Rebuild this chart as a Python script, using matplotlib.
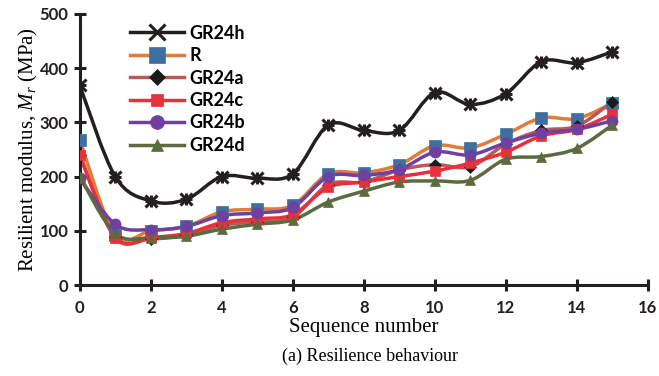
import numpy as np
import matplotlib
matplotlib.use("Agg")
import matplotlib.pyplot as plt
from matplotlib.path import Path
from matplotlib.patches import PathPatch
from matplotlib.lines import Line2D

plt.rcParams["mathtext.fontset"] = "custom"
plt.rcParams["mathtext.it"] = "Liberation Serif:italic"
plt.rcParams["mathtext.rm"] = "Liberation Serif"

seq = list(range(16))
GR24h = [368, 200, 155, 158, 200, 197, 205, 295, 285, 285, 355, 333, 353, 412, 410, 430]
R     = [268, 93, 100, 108, 135, 140, 147, 205, 207, 222, 257, 253, 278, 308, 307, 335]
GR24a = [240, 88, 85, 92, 110, 117, 125, 185, 190, 212, 222, 218, 260, 285, 293, 338]
GR24c = [240, 87, 88, 95, 115, 122, 130, 180, 190, 200, 210, 225, 245, 275, 287, 315]
GR24b = [197, 112, 102, 108, 128, 133, 143, 200, 202, 213, 245, 240, 262, 280, 287, 303]
GR24d = [200, 95, 87, 90, 103, 112, 120, 153, 173, 190, 192, 193, 232, 237, 252, 295]

series = [
    ("GR24h", GR24h, "#231F20", "x", "#231F20", 9),
    ("R", R, "#E07B39", "s", "#3E6FA0", 9),
    ("GR24a", GR24a, "#B5595A", "D", "#1a1a1a", 6),
    ("GR24c", GR24c, "#E8303A", "s", "#E8303A", 7),
    ("GR24b", GR24b, "#7040A0", "o", "#7040A0", 8),
    ("GR24d", GR24d, "#5B6B3F", "^", "#5B6B3F", 7),
]

def smooth_path(x, y, t=0.5 / 3):
    x = np.asarray(x, float); y = np.asarray(y, float)
    n = len(x)
    verts = [(x[0], y[0])]; codes = [Path.MOVETO]
    for i in range(n - 1):
        x0, y0 = (x[i - 1], y[i - 1]) if i > 0 else (x[i], y[i])
        x3, y3 = (x[i + 2], y[i + 2]) if i + 2 < n else (x[i + 1], y[i + 1])
        c1 = (x[i] + (x[i + 1] - x0) * t, y[i] + (y[i + 1] - y0) * t)
        c2 = (x[i + 1] - (x3 - x[i]) * t, y[i + 1] - (y3 - y[i]) * t)
        verts += [c1, c2, (x[i + 1], y[i + 1])]
        codes += [Path.CURVE4] * 3
    return Path(verts, codes)

fig = plt.figure(figsize=(6.59, 3.76), dpi=100)
ax = fig.add_axes([0.121, 0.242, 0.862, 0.721])

handles = []
for name, vals, lc, mk, mc, ms in series:
    patch = PathPatch(smooth_path(seq, vals), facecolor="none", edgecolor=lc, lw=2.5,
                      transform=ax.transData, zorder=2)
    ax.add_patch(patch)
    mew = 2.2 if mk == "x" else 0.5
    ax.plot(seq, vals, ls="none", marker=mk, ms=ms, color=mc, mec=mc, mew=mew, zorder=3)
    if mk == "x":
        ax.plot(seq, vals, ls="none", marker="+", ms=ms, color=mc, mew=2.2, zorder=3)
    handles.append(Line2D([], [], color=lc, lw=2.5, marker=mk, ms=ms + 2, mfc=mc, mec=mc, mew=mew))

ax.set_xlim(0, 16)
ax.set_ylim(0, 500)
ax.set_xticks(range(0, 17, 2))
ax.set_yticks(range(0, 501, 100))
for s in ["top", "right"]:
    ax.spines[s].set_visible(False)
for s in ["left", "bottom"]:
    ax.spines[s].set_linewidth(2.2)
    ax.spines[s].set_color("#231F20")
ax.tick_params(axis="both", width=2.2, color="#231F20")
ax.tick_params(axis="y", direction="inout", length=8, pad=4)
ax.tick_params(axis="x", direction="inout", length=8, pad=7)
for lab in ax.get_xticklabels() + ax.get_yticklabels():
    lab.set_fontfamily("Lato"); lab.set_fontweight("bold"); lab.set_fontsize(12)
    lab.set_color("#231F20")

ax.set_xlabel("Sequence number", family="Liberation Serif", fontsize=15, labelpad=1)
ax.set_ylabel("Resilient modulus, $M_r$ (MPa)", family="Liberation Serif", fontsize=15, labelpad=0)

leg = ax.legend(handles, [s[0] for s in series], loc="upper left", bbox_to_anchor=(0.06, 1.02),
                frameon=False, handlelength=3.0, labelspacing=0.3, handletextpad=0.3,
                prop={"family": "Lato", "weight": "bold", "size": 13})

fig.text(0.562, 0.052, "(a) Resilience behaviour", family="Liberation Serif", fontsize=13,
         ha="center", va="center")

fig.savefig("out.png", dpi=100)
